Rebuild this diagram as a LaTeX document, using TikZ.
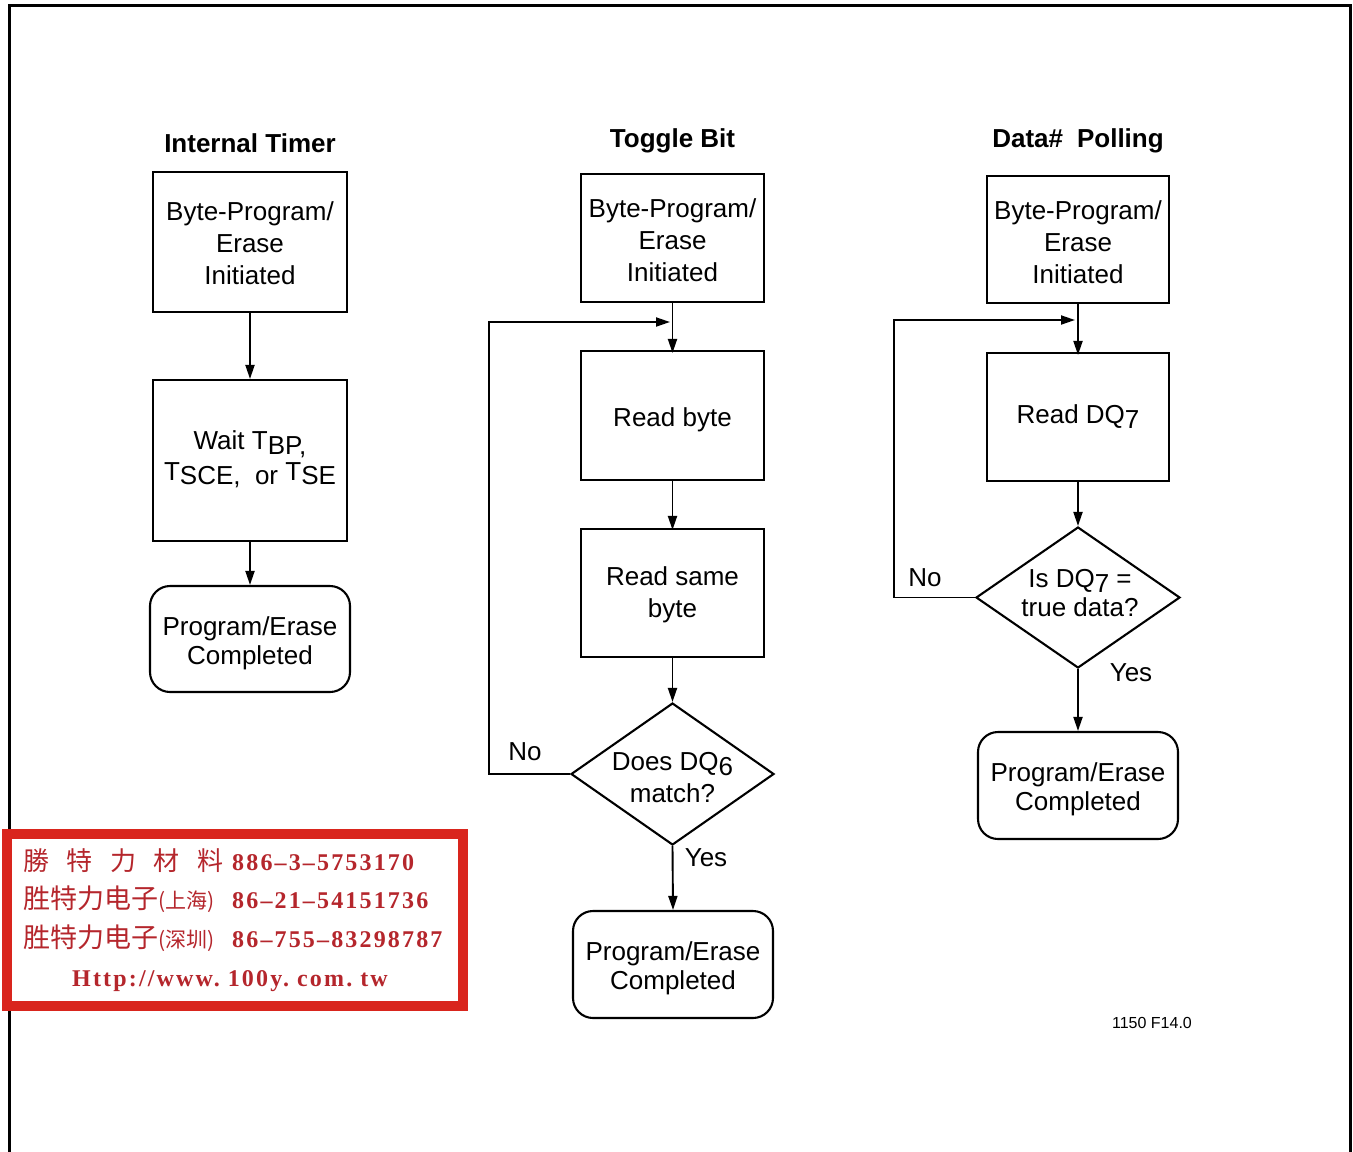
\documentclass[tikz,border=0pt]{standalone}
\usepackage{fontspec}
\setmainfont{Liberation Sans}
\newfontfamily\cjk{Noto Sans CJK SC}
\newfontfamily\stampnum{Liberation Serif}[LetterSpace=9]
\usetikzlibrary{arrows.meta,shapes.geometric}
\definecolor{stampred}{HTML}{D9251D}
\definecolor{stamptext}{HTML}{B5262C}
\tikzset{
  box/.style={draw, line width=2.1pt, inner sep=0pt},
  endbox/.style={box, rounded corners=20pt},
  dia/.style={draw, line width=2.1pt, diamond, inner sep=0pt},
  txt/.style={align=center, inner sep=0pt, font=\fontsize{26}{32}\selectfont},
  etxt/.style={align=center, inner sep=0pt, font=\fontsize{26}{29}\selectfont},
  ttl/.style={inner sep=0pt, font=\fontsize{26}{32}\selectfont\bfseries},
  arr/.style={line width=1.9pt, -{Triangle[length=14pt,width=9pt]}},
  lbl/.style={inner sep=0pt, font=\fontsize{26}{32}\selectfont},
}
\begin{document}
\begin{tikzpicture}[x=1pt,y=-1pt]
\useasboundingbox (0,0) rectangle (1353,1152);
% frame
\draw[line width=3pt] (9,1152) -- (9,5) -- (1350,5) -- (1350,1152);

% ---------- Column 1: Internal Timer ----------
\node[ttl] (t1) at (250,143) {Internal Timer};
\node[box, minimum width=194pt, minimum height=140pt] (a1) at (250,242) {};
\node[txt] (a1t) at (250,243) {Byte-Program/\\Erase\\Initiated};
\node[box, minimum width=194pt, minimum height=161pt] (a2) at (250,460.5) {};
\node[txt] (a2t) at (250,459)
  {Wait T\raisebox{-5pt}{BP,}\\[3pt]\raisebox{4pt}{T}SCE,\ \ or \raisebox{4pt}{T}SE};
\node[endbox, minimum width=200pt, minimum height=106pt] (a3) at (250,639) {};
\node[etxt] (a3t) at (250,643) {Program/Erase\\Completed};
\draw[arr] (a1.south) -- (a2.north);
\draw[arr] (a2.south) -- (a3.north);

% ---------- Column 2: Toggle Bit ----------
\node[ttl] (t2) at (672.5,141) {Toggle Bit};
\node[box, minimum width=183pt, minimum height=128pt] (b1) at (672.5,238) {};
\node[txt] (b1t) at (672.5,240) {Byte-Program/\\Erase\\Initiated};
\node[box, minimum width=183pt, minimum height=129pt] (b2) at (672.5,415.5) {};
\node[txt] (b2t) at (672.5,420) {Read byte};
\node[box, minimum width=183pt, minimum height=128pt] (b3) at (672.5,593) {};
\node[txt] (b3t) at (672.5,595) {Read same\\byte};
\node[dia, minimum width=203pt, minimum height=142pt] (b4) at (672.5,774) {};
\node[txt] (b4t) at (672.5,778) {Does DQ\raisebox{-5pt}{6}\\match?};
\node[endbox, minimum width=200pt, minimum height=107pt] (b5) at (673,964.5) {};
\node[etxt] (b5t) at (673,968.5) {Program/Erase\\Completed};
\draw[arr] (b1.south) -- ([yshift=-3pt]b2.north);
\draw[arr] (b2.south) -- ([yshift=-2pt]b3.north);
\draw[arr] (b3.south) -- (b4.north);
\draw[arr] (b4.south) -- (b5.north);
\coordinate (bl) at (489,322);
\coordinate (bm) at (670,322);
\draw[arr] (b4.west) -- (b4.west -| bl) -- (bl) -- (bm);
\node[lbl] (bno) at (525,752) {No};
\node[lbl] (byes) at (706,858) {Yes};

% ---------- Column 3: Data# Polling ----------
\node[ttl] (t3) at (1078,141) {Data\#\hspace{14pt}Polling};
\node[box, minimum width=182pt, minimum height=127pt] (c1) at (1078,239.5) {};
\node[txt] (c1t) at (1078,242.5) {Byte-Program/\\Erase\\Initiated};
\node[box, minimum width=182pt, minimum height=128pt] (c2) at (1078,417) {};
\node[txt] (c2t) at (1078,417) {Read DQ\raisebox{-5pt}{7}};
\node[dia, minimum width=204pt, minimum height=141pt] (c3) at (1078,597.5) {};
\node[etxt] (c3t) at (1080,593) {Is DQ\raisebox{-5pt}{7} =\\true data?};
\node[endbox, minimum width=200pt, minimum height=107pt] (c4) at (1078,785.5) {};
\node[etxt] (c4t) at (1078,789.5) {Program/Erase\\Completed};
\draw[arr] (c1.south) -- ([yshift=-3pt]c2.north);
\draw[arr] (c2.south) -- (c3.north);
\draw[arr] (c3.south) -- (c4.north);
\coordinate (cl) at (894,320);
\coordinate (cm) at (1075,320);
\draw[arr] (c3.west) -- (c3.west -| cl) -- (cl) -- (cm);
\node[lbl] (cno) at (925,578) {No};
\node[lbl] (cyes) at (1131,673) {Yes};

\node[inner sep=0pt, font=\fontsize{16}{18}\selectfont] (fig) at (1152,1023) {1150 F14.0};

% ---------- stamp ----------
\fill[white] (2,829) rectangle (468,1011);
\draw[stampred, line width=10pt] (7,834) rectangle (463,1006);
\node[anchor=base west, inner sep=0pt, text=stamptext] (s1) at (23,870)
  {\makebox[209pt][l]{\cjk\fontsize{26}{26}\selectfont 勝\hspace{17.5pt}特\hspace{17.5pt}力\hspace{17.5pt}材\hspace{17.5pt}料}{\stampnum\bfseries\fontsize{24}{24}\selectfont 886–3–5753170}};
\node[anchor=base west, inner sep=0pt, text=stamptext] (s2) at (23,908)
  {\makebox[209pt][l]{{\cjk\fontsize{27}{27}\selectfont 胜特力电子}{\cjk\fontsize{21}{21}\selectfont (上海)}}{\stampnum\bfseries\fontsize{24}{24}\selectfont 86–21–54151736}};
\node[anchor=base west, inner sep=0pt, text=stamptext] (s3) at (23,947)
  {\makebox[209pt][l]{{\cjk\fontsize{27}{27}\selectfont 胜特力电子}{\cjk\fontsize{21}{21}\selectfont (深圳)}}{\stampnum\bfseries\fontsize{24}{24}\selectfont 86–755–83298787}};
\node[anchor=base, inner sep=0pt, text=stamptext] (s4) at (230,986)
  {\stampnum\bfseries\fontsize{24}{24}\selectfont Http://www.\hspace{8pt}100y.\hspace{8pt}com.\hspace{8pt}tw};
\end{tikzpicture}
\end{document}
